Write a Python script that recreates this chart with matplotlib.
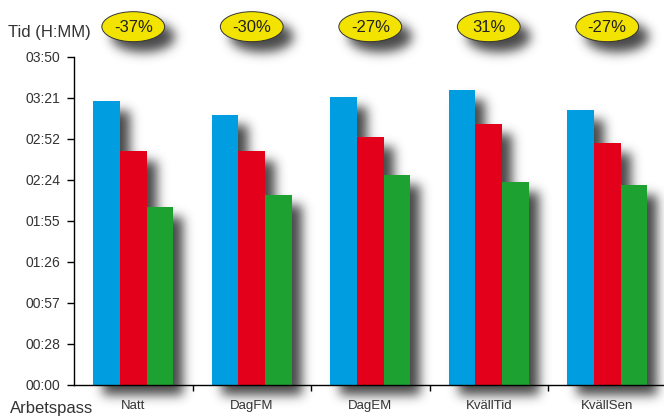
import numpy as np
import matplotlib
matplotlib.use("Agg")
import matplotlib.pyplot as plt
from matplotlib.patches import Ellipse
from matplotlib.transforms import blended_transform_factory

plt.rcParams['font.family'] = ['Liberation Sans', 'DejaVu Sans']

# data (minutes)
arbetspass = ["Natt", "DagFM", "DagEM", "KvällTid", "KvällSen"]
blue_min = [199, 189, 202, 207, 193]
red_min = [164, 164, 174, 183, 169.5]
green_min = [124.7, 133, 147, 142, 140]
change_labels = ["-37%", "-30%", "-27%", "31%", "-27%"]
ytick_min = [0, 28.75, 57.5, 86.25, 115, 143.75, 172.5, 201.25, 230]
ytick_labels = ["00:00", "00:28", "00:57", "01:26", "01:55",
                "02:24", "02:52", "03:21", "03:50"]

BLUE = "#009EE0"
RED = "#E2001A"
GREEN = "#1DA131"
YELLOW = "#F2E400"


def blur_1d(a, k, axis):
    return np.apply_along_axis(lambda m: np.convolve(m, k, mode="same"), axis, a)


def drop_shadow(img, dpi, dx=10, dy=10, sigma=5.5, pad=30):
    alpha = np.pad(img[..., 3], pad)
    r = int(3 * sigma)
    t = np.arange(-r, r + 1)
    k = np.exp(-t ** 2 / (2 * sigma ** 2))
    k /= k.sum()
    alpha = blur_1d(blur_1d(alpha, k, 0), k, 1)
    out = np.zeros(alpha.shape + (4,))
    out[..., :3] = 0.2
    out[..., 3] = np.clip(alpha * 0.9, 0, 1)
    return out, -pad + dx, -pad - dy


fig = plt.figure(figsize=(6.64, 4.18), dpi=100)
rect = [74 / 664, 33 / 418, 592.5 / 664, 328.3 / 418]

x = np.arange(len(arbetspass))
w = 0.224
ell_w, ell_h, ell_y = 0.53, 0.0914, 1.0914


def draw_marks(a, shadow):
    kw = dict(width=w, clip_on=False, linewidth=0)
    a.bar(x - w, blue_min, color="k" if shadow else BLUE, **kw)
    a.bar(x, red_min, color="k" if shadow else RED, **kw)
    a.bar(x + w, green_min, color="k" if shadow else GREEN, **kw)
    tr = blended_transform_factory(a.transData, a.transAxes)
    for xi, lab in zip(x, change_labels):
        e = Ellipse((xi, ell_y), ell_w, ell_h, transform=tr, clip_on=False,
                    facecolor="k" if shadow else YELLOW,
                    edgecolor="k" if shadow else "#333333", linewidth=0.7)
        a.add_patch(e)
        if not shadow:
            a.text(xi, ell_y - 0.003, lab, transform=tr, ha="center", va="center",
                   fontsize=12, color="#222222")


# shadow layer
sax = fig.add_axes(rect, zorder=0)
sax.axis("off")
sax.set_xlim(-0.5, 4.5)
sax.set_ylim(0, 230)
draw_marks(sax, True)
sax.set_agg_filter(drop_shadow)

# main layer
ax = fig.add_axes(rect, zorder=1)
ax.patch.set_visible(False)
ax.set_xlim(-0.5, 4.5)
ax.set_ylim(0, 230)
draw_marks(ax, False)

ax.spines["top"].set_visible(False)
ax.spines["right"].set_visible(False)
ax.spines["left"].set_linewidth(1.0)
ax.spines["bottom"].set_linewidth(1.0)

ax.set_yticks(ytick_min)
ax.set_yticklabels(ytick_labels)
ax.tick_params(axis="y", length=5, width=1, pad=5, labelsize=10, labelcolor="#333333")

ax.set_xticks(x)
ax.set_xticklabels(arbetspass)
ax.set_xticks(x[:-1] + 0.5, minor=True)
ax.tick_params(axis="x", which="major", length=0, pad=10.5, labelsize=9.5, labelcolor="#333333")
ax.tick_params(axis="x", which="minor", length=4, width=1)

fig.text(8 / 664, 1 - 32 / 418, "Tid (H:MM)", fontsize=12, color="#333333",
         ha="left", va="center")
fig.text(10 / 664, 1 - 408 / 418, "Arbetspass", fontsize=12, color="#333333",
         ha="left", va="center")

fig.savefig("out.png", dpi=100, facecolor="white")
